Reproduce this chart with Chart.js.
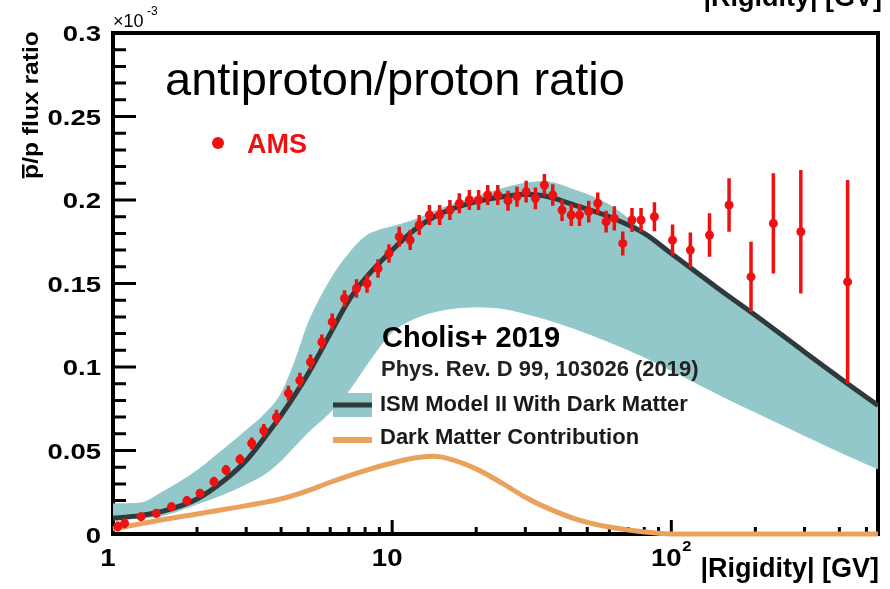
<!DOCTYPE html>
<html>
<head>
<meta charset="utf-8">
<script src="https://cdn.jsdelivr.net/npm/chart.js@4.4.1/dist/chart.umd.min.js"></script>
<style>
  html, body { margin: 0; padding: 0; background: #fff; }
  canvas { display: block; }
</style>
</head>
<body>
<canvas id="pbar_ratio" width="890" height="589"></canvas>
<script>
// AMS pbar/p ratio, values in units of 1e-3
const amsRigidity = [1.04, 1.1, 1.26, 1.43, 1.62, 1.84, 2.05, 2.30, 2.54, 2.85, 3.14, 3.47, 3.85, 4.25, 4.67,
    5.1, 5.6, 6.1, 6.75, 7.45, 8.13, 8.90, 9.74, 10.6, 11.6, 12.5, 13.6, 14.8, 16.1, 17.4, 18.9, 20.4, 22.0,
    23.9, 26.0, 28.0, 30.2, 32.6, 35.1, 37.6, 40.6, 43.8, 46.9, 50.6, 54.5, 58.4, 62.5, 67.0, 72.3, 77.9,
    87, 101, 117, 137, 161, 193, 232, 291, 428];
const amsRatio = [0.0045, 0.0064, 0.0104, 0.0124, 0.0163, 0.0200, 0.0244, 0.0313, 0.0383, 0.0447, 0.0543, 0.0619, 0.0699, 0.0843, 0.092,
    0.103, 0.115, 0.127, 0.141, 0.147, 0.150, 0.159, 0.168, 0.178, 0.176, 0.185, 0.191, 0.191, 0.194, 0.198, 0.200, 0.200, 0.203,
    0.203, 0.1996, 0.202, 0.205, 0.201, 0.209, 0.203, 0.194, 0.191, 0.191, 0.193, 0.198, 0.187, 0.189, 0.174, 0.188, 0.188,
    0.190, 0.176, 0.170, 0.179, 0.197, 0.154, 0.186, 0.181, 0.151];
const amsError = [0.003, 0.003, 0.0025, 0.0025, 0.0025, 0.0025, 0.0025, 0.003, 0.003, 0.003, 0.0035, 0.004, 0.0045, 0.0045, 0.0045,
    0.0045, 0.0045, 0.005, 0.005, 0.0055, 0.0055, 0.0055, 0.0055, 0.006, 0.006, 0.006, 0.006, 0.006, 0.006, 0.006, 0.006, 0.006, 0.006,
    0.006, 0.006, 0.006, 0.0065, 0.0065, 0.0065, 0.0065, 0.0065, 0.0065, 0.0065, 0.0065, 0.0065, 0.0065, 0.0072, 0.0072, 0.0072, 0.0072,
    0.0087, 0.0093, 0.0105, 0.013, 0.016, 0.021, 0.030, 0.037, 0.061];

// ISM model II with dark matter (central curve)
const modelRigidity = [1, 1.25, 1.5, 2, 2.5, 3, 3.5, 4, 5, 6, 7, 8, 10, 12, 15, 20, 25, 30, 35, 45, 60, 80, 100, 150, 200, 300, 428, 550];
const modelRatio = [0.0095, 0.011, 0.0135, 0.021, 0.032, 0.044, 0.058, 0.071, 0.096, 0.120, 0.140, 0.153, 0.170, 0.182, 0.192, 0.199,
    0.202, 0.2035, 0.2025, 0.197, 0.190, 0.180, 0.168, 0.146, 0.131, 0.109, 0.090, 0.077];

// model uncertainty band
const bandRigidity = [1, 1.25, 1.5, 2, 2.5, 3, 3.5, 4, 4.5, 5, 6, 7, 8, 9, 10, 12, 15, 20, 25, 30, 35, 45, 60, 80, 100, 150, 200, 300, 428, 550];
const bandHigh = [0.018, 0.0185, 0.025, 0.038, 0.051, 0.062, 0.072, 0.084, 0.104, 0.126, 0.152, 0.168, 0.178, 0.182, 0.184, 0.188,
    0.195, 0.202, 0.207, 0.210, 0.211, 0.206, 0.197, 0.181, 0.168, 0.146, 0.131, 0.109, 0.090, 0.077];
const bandLow = [0.0085, 0.0095, 0.011, 0.018, 0.024, 0.030, 0.036, 0.044, 0.053, 0.061, 0.073, 0.086, 0.100, 0.112, 0.121, 0.129,
    0.134, 0.136, 0.135, 0.132, 0.129, 0.123, 0.115, 0.106, 0.098, 0.083, 0.073, 0.059, 0.047, 0.039];

// dark matter contribution alone
const dmRigidity = [1, 1.5, 2, 3, 4, 5, 6, 8, 10, 12, 14, 16, 20, 25, 30, 36, 47, 60, 80, 100, 550];
const dmRatio = [0.003, 0.0085, 0.012, 0.017, 0.021, 0.026, 0.031, 0.038, 0.0425, 0.0455, 0.0465, 0.045, 0.039, 0.030, 0.022,
    0.0155, 0.0082, 0.0042, 0.0012, 0, 0];

const yTickValues = [0, 0.05, 0.1, 0.15, 0.2, 0.25, 0.3];
const yTickLabels = ['0', '0.05', '0.1', '0.15', '0.2', '0.25', '0.3'];
const xTickValues = [1, 10, 100];
const xTickLabels = ['1', '10', '10^2'];

const TEAL = '#93c8ca';
const DARK = '#2e3a3b';
const ORANGE = '#eaa15c';
const RED = '#ee1111';
const FONT = '"Liberation Sans", Arial, Helvetica, sans-serif';

function pts(xs, ys) {
    return xs.map((v, i) => ({x: v, y: ys[i]}));
}

function drawText(ctx, str, x, y, font, color, align, sx) {
    ctx.save();
    ctx.translate(x, y);
    ctx.scale(sx || 1, 1);
    ctx.font = font;
    ctx.fillStyle = color;
    ctx.textAlign = align || 'left';
    ctx.textBaseline = 'alphabetic';
    ctx.fillText(str, 0, 0);
    ctx.restore();
}

// frame and inward ticks, drawn under the curves
const frameTicks = {
    id: 'frameTicks',
    beforeDatasetsDraw(chart) {
        const {ctx, chartArea: a, scales: {x, y}} = chart;
        ctx.save();
        ctx.strokeStyle = '#000';
        ctx.lineWidth = 3;
        ctx.beginPath();
        for (let i = 0; i < yTickValues.length; i++) {
            const py = y.getPixelForValue(yTickValues[i]);
            ctx.moveTo(a.left, py);
            ctx.lineTo(a.left + 23, py);
            if (i < yTickValues.length - 1) {
                const step = (yTickValues[i + 1] - yTickValues[i]) / 5;
                for (let k = 1; k < 5; k++) {
                    const pm = y.getPixelForValue(yTickValues[i] + k * step);
                    ctx.moveTo(a.left, pm);
                    ctx.lineTo(a.left + 13, pm);
                }
            }
        }
        xTickValues.forEach(d => {
            const px = x.getPixelForValue(d);
            ctx.moveTo(px, a.bottom);
            ctx.lineTo(px, a.bottom - 14);
            for (let m = 2; m <= 9; m++) {
                if (d * m > x.max) break;
                const pm = x.getPixelForValue(d * m);
                ctx.moveTo(pm, a.bottom);
                ctx.lineTo(pm, a.bottom - 7);
            }
        });
        ctx.stroke();
        ctx.lineWidth = 4;
        ctx.strokeRect(a.left, a.top, a.right - a.left, a.bottom - a.top);
        ctx.restore();
    }
};

// vertical error bars under the AMS markers
const errorBars = {
    id: 'errorBars',
    beforeDatasetDraw(chart, args) {
        if (chart.data.datasets[args.index].label !== 'AMS') return;
        const {ctx, scales: {x, y}} = chart;
        ctx.save();
        ctx.strokeStyle = RED;
        ctx.lineWidth = 3.5;
        ctx.beginPath();
        amsRigidity.forEach((r, i) => {
            const px = x.getPixelForValue(r);
            ctx.moveTo(px, y.getPixelForValue(amsRatio[i] - amsError[i]));
            ctx.lineTo(px, y.getPixelForValue(amsRatio[i] + amsError[i]));
        });
        ctx.stroke();
        ctx.restore();
    }
};

// axis labels, titles and legend
const labels = {
    id: 'labels',
    afterDraw(chart) {
        const {ctx, chartArea: a, scales: {x, y}} = chart;
        const tickFont = 'bold 22px ' + FONT;
        yTickValues.forEach((v, i) => {
            const py = y.getPixelForValue(v);
            drawText(ctx, yTickLabels[i], 101, py + (i === 0 ? 9 : 8), tickFont, '#000', 'right', 1.25);
        });
        xTickValues.forEach((v, i) => {
            const px = x.getPixelForValue(v) - 5;
            const parts = xTickLabels[i].split('^');
            if (parts.length === 1) {
                drawText(ctx, parts[0], px, 566, 'bold 24px ' + FONT, '#000', 'center', 1.15);
            } else {
                drawText(ctx, parts[0], px, 566, 'bold 24px ' + FONT, '#000', 'center', 1.15);
                drawText(ctx, parts[1], px + 16, 551, 'bold 15px ' + FONT, '#000', 'left', 1.1);
            }
        });
        drawText(ctx, '\u00d710', a.left, 27, '18px ' + FONT, '#000', 'left');
        drawText(ctx, '-3', a.left + 34, 15, '12px ' + FONT, '#000', 'left');

        drawText(ctx, '|Rigidity| [GV]', 879, 577, 'bold 27px ' + FONT, '#000', 'right');
        drawText(ctx, '|Rigidity| [GV]', 882, 6, 'bold 27px ' + FONT, '#000', 'right');

        // rotated y title with a bar over the first p
        ctx.save();
        ctx.translate(38, 105);
        ctx.rotate(-Math.PI / 2);
        ctx.scale(1.12, 1);
        ctx.font = 'bold 22px ' + FONT;
        ctx.fillStyle = '#000';
        ctx.textAlign = 'left';
        const title = 'p/p flux ratio';
        const w = ctx.measureText(title).width;
        const pw = ctx.measureText('p').width;
        ctx.fillText(title, -w / 2, 0);
        ctx.fillRect(-w / 2 + 0.5, -16, pw - 1, 2.5);
        ctx.restore();

        drawText(ctx, 'antiproton/proton ratio', 165, 95, '47px ' + FONT, '#000', 'left');

        ctx.save();
        ctx.fillStyle = RED;
        ctx.beginPath();
        ctx.arc(218, 143, 6, 0, Math.PI * 2);
        ctx.fill();
        ctx.restore();
        drawText(ctx, 'AMS', 247, 153, 'bold 27px ' + FONT, RED, 'left');

        drawText(ctx, 'Cholis+ 2019', 382, 347, 'bold 29px ' + FONT, '#000', 'left');
        drawText(ctx, 'Phys. Rev. D 99, 103026 (2019)', 381, 376, 'bold 22px ' + FONT, '#222', 'left');

        ctx.save();
        ctx.fillStyle = TEAL;
        ctx.fillRect(333, 393, 39, 24);
        ctx.strokeStyle = DARK;
        ctx.lineWidth = 5;
        ctx.beginPath();
        ctx.moveTo(333, 405);
        ctx.lineTo(372, 405);
        ctx.stroke();
        ctx.strokeStyle = ORANGE;
        ctx.lineWidth = 6;
        ctx.beginPath();
        ctx.moveTo(333, 440);
        ctx.lineTo(372, 440);
        ctx.stroke();
        ctx.restore();
        drawText(ctx, 'ISM Model II With Dark Matter', 380, 411, 'bold 22px ' + FONT, '#1a1a1a', 'left');
        drawText(ctx, 'Dark Matter Contribution', 380, 444, 'bold 22px ' + FONT, '#1a1a1a', 'left');
    }
};

let pbar_ratio = document.getElementById('pbar_ratio').getContext('2d');
new Chart(pbar_ratio, {
    type: 'line',
    data: {
        datasets: [
            {
                label: 'band high',
                data: pts(bandRigidity, bandHigh),
                borderColor: TEAL,
                borderWidth: 1,
                backgroundColor: TEAL,
                fill: '+1',
                pointRadius: 0,
                cubicInterpolationMode: 'monotone',
                order: 4
            },
            {
                label: 'band low',
                data: pts(bandRigidity, bandLow),
                borderColor: TEAL,
                borderWidth: 1,
                fill: false,
                pointRadius: 0,
                cubicInterpolationMode: 'monotone',
                order: 3
            },
            {
                label: 'ISM Model II With Dark Matter',
                data: pts(modelRigidity, modelRatio),
                borderColor: DARK,
                borderWidth: 5,
                fill: false,
                pointRadius: 0,
                cubicInterpolationMode: 'monotone',
                order: 2
            },
            {
                label: 'Dark Matter Contribution',
                data: pts(dmRigidity, dmRatio),
                borderColor: ORANGE,
                borderWidth: 5,
                fill: false,
                pointRadius: 0,
                cubicInterpolationMode: 'monotone',
                clip: false,
                order: 1
            },
            {
                label: 'AMS',
                data: pts(amsRigidity, amsRatio),
                showLine: false,
                pointRadius: 4.5,
                pointBackgroundColor: RED,
                pointBorderWidth: 0,
                order: 0
            }
        ]
    },
    options: {
        responsive: false,
        animation: false,
        events: [],
        layout: {padding: {left: 113, right: 12, top: 33, bottom: 55}},
        scales: {
            x: {type: 'logarithmic', min: 1, max: 550, display: false},
            y: {type: 'linear', min: 0, max: 0.3, display: false}
        },
        plugins: {
            legend: {display: false},
            tooltip: {enabled: false}
        }
    },
    plugins: [frameTicks, errorBars, labels]
});
</script>
</body>
</html>
